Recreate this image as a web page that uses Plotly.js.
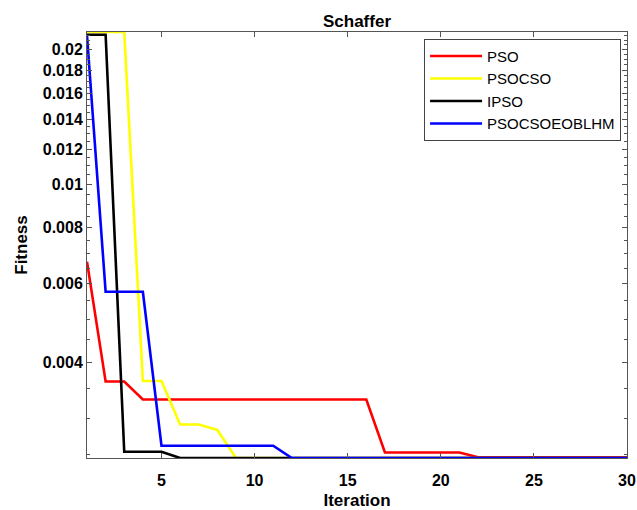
<!DOCTYPE html>
<html>
<head>
<meta charset="utf-8">
<script src="https://cdn.plot.ly/plotly-3.0.1.min.js"></script>
<style>
  html, body { margin: 0; padding: 0; background: #fff; }
  #chart { width: 637px; height: 510px; }
</style>
</head>
<body>
<div id="chart"></div>
<script>
// Convergence curves on the Schaffer benchmark (best fitness per iteration)
const iterations = [1,2,3,4,5,6,7,8,9,10,11,12,13,14,15,16,17,18,19,20,21,22,23,24,25,26,27,28,29,30];

const psoFitness = [0.00672, 0.00363, 0.00363, 0.00331, 0.00331, 0.00331, 0.00331, 0.00331, 0.00331, 0.00331,
                    0.00331, 0.00331, 0.00331, 0.00331, 0.00331, 0.00331, 0.00252, 0.00252, 0.00252, 0.00252,
                    0.00252, 0.00246, 0.00246, 0.00246, 0.00246, 0.00246, 0.00246, 0.00246, 0.00246, 0.00246];

const psocsoFitness = [0.0219, 0.0219, 0.0219, 0.00364, 0.00364, 0.00291, 0.00291, 0.00283, 0.00245, 0.00245,
                       0.00245, 0.00245, 0.00245, 0.00245, 0.00245, 0.00245, 0.00245, 0.00245, 0.00245, 0.00245,
                       0.00245, 0.00245, 0.00245, 0.00245, 0.00245, 0.00245, 0.00245, 0.00245, 0.00245, 0.00245];

const ipsoFitness = [0.0216, 0.0216, 0.00253, 0.00253, 0.00253, 0.00245, 0.00245, 0.00245, 0.00245, 0.00245,
                     0.00245, 0.00245, 0.00245, 0.00245, 0.00245, 0.00245, 0.00245, 0.00245, 0.00245, 0.00245,
                     0.00245, 0.00245, 0.00245, 0.00245, 0.00245, 0.00245, 0.00245, 0.00245, 0.00245, 0.00245];

const eoblhmFitness = [0.0215, 0.00576, 0.00576, 0.00576, 0.00261, 0.00261, 0.00261, 0.00261, 0.00261, 0.00261,
                       0.00261, 0.00245, 0.00245, 0.00245, 0.00245, 0.00245, 0.00245, 0.00245, 0.00245, 0.00245,
                       0.00245, 0.00245, 0.00245, 0.00245, 0.00245, 0.00245, 0.00245, 0.00245, 0.00245, 0.00245];

const seriesNames = ["PSO", "PSOCSO", "IPSO", "PSOCSOEOBLHM"];
const seriesColors = ["#ff0000", "#ffff00", "#000000", "#0000ff"];

const xTickVals = [5, 10, 15, 20, 25, 30];
const yTickVals = [0.004, 0.006, 0.008, 0.01, 0.012, 0.014, 0.016, 0.018, 0.02];
const yTickText = ["0.004", "0.006", "0.008", "0.01", "0.012", "0.014", "0.016", "0.018", "0.02"];
const yMinorVals = [0.0025, 0.003, 0.0035, 0.0045, 0.005, 0.0055, 0.0065, 0.007, 0.0075, 0.0085, 0.009, 0.0095,
                    0.0105, 0.011, 0.0115, 0.0125, 0.013, 0.0135, 0.0145, 0.015, 0.0155, 0.0165, 0.017, 0.0175,
                    0.0185, 0.019, 0.0195, 0.0205, 0.021, 0.0215];

const yLow = 0.00245, yHigh = 0.0219;

const seriesValues = [psoFitness, psocsoFitness, ipsoFitness, eoblhmFitness];
const traces = seriesValues.map((vals, i) => ({
  x: iterations,
  y: vals,
  type: "scatter",
  mode: "lines",
  name: seriesNames[i],
  line: { color: seriesColors[i], width: 2.6 }
}));

const fontFamily = "Liberation Sans, Arial, sans-serif";
const tickFont = { family: fontFamily, size: 16, color: "#000" };
const axisColor = "#555555";

const layout = {
  width: 637,
  height: 510,
  margin: { l: 87, r: 10, t: 32, b: 52 },
  paper_bgcolor: "#ffffff",
  plot_bgcolor: "#ffffff",
  showlegend: true,
  title: {
    text: "<b>Schaffer</b>",
    font: { family: fontFamily, size: 17, color: "#000" },
    x: 0.5, xref: "paper", xanchor: "center",
    y: 1, yref: "paper", yanchor: "bottom", pad: { b: 5 }
  },
  xaxis: {
    range: [1, 30],
    automargin: false,
    tickmode: "array",
    tickvals: xTickVals,
    ticktext: xTickVals.map(v => "<b>" + v + "</b>"),
    ticks: "inside",
    ticklen: 5,
    tickwidth: 1,
    tickcolor: axisColor,
    ticklabelstandoff: 8,
    showline: true,
    linecolor: axisColor,
    linewidth: 1,
    mirror: "ticks",
    showgrid: false,
    zeroline: false,
    tickfont: tickFont,
    title: { text: "<b>Iteration</b>", font: { family: fontFamily, size: 17, color: "#000" }, standoff: 6 }
  },
  yaxis: {
    type: "log",
    automargin: false,
    range: [Math.log10(yLow), Math.log10(yHigh)],
    tickmode: "array",
    tickvals: yTickVals,
    ticktext: yTickText.map(t => "<b>" + t + "</b>"),
    ticks: "inside",
    ticklen: 5,
    tickwidth: 1,
    tickcolor: axisColor,
    minor: {
      tickmode: "array",
      tickvals: yMinorVals,
      ticks: "inside",
      ticklen: 3,
      tickwidth: 1,
      tickcolor: axisColor,
      showgrid: false
    },
    showline: true,
    linecolor: axisColor,
    linewidth: 1,
    mirror: "ticks",
    showgrid: false,
    zeroline: false,
    tickfont: tickFont,
    title: { text: "<b>Fitness</b>", font: { family: fontFamily, size: 17, color: "#000" }, standoff: 10 }
  },
  legend: {
    x: 0.989, xref: "paper", xanchor: "right",
    y: 0.984, yref: "paper", yanchor: "top",
    bgcolor: "#ffffff",
    bordercolor: "#444444",
    borderwidth: 1,
    font: { family: fontFamily, size: 15, color: "#000" },
    itemwidth: 52,
    tracegroupgap: 0
  }
};

Plotly.newPlot("chart", traces, layout, { displayModeBar: false, staticPlot: true });
</script>
</body>
</html>
